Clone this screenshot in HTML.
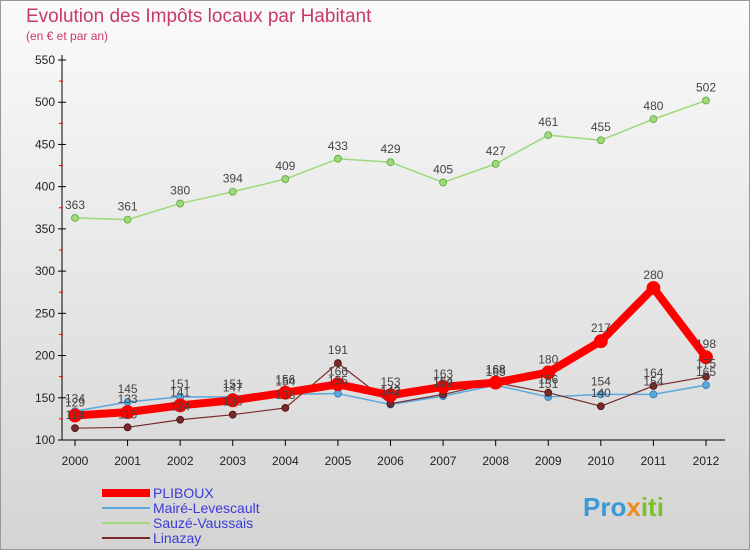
<!DOCTYPE html>
<html><head><meta charset="utf-8"><style>
body{margin:0;width:750px;height:550px;overflow:hidden;font-family:"Liberation Sans",sans-serif}
</style></head><body>
<svg width="750" height="550" xmlns="http://www.w3.org/2000/svg">
<defs><linearGradient id="bg" x1="0" y1="0" x2="0" y2="1"><stop offset="0" stop-color="#fafafa"/><stop offset="1" stop-color="#d4d4d4"/></linearGradient></defs>
<rect x="0.5" y="0.5" width="749" height="549" fill="url(#bg)" stroke="#999"/>
<text x="26" y="22" font-size="19" fill="#c8386e">Evolution des Impôts locaux par Habitant</text>
<text x="26" y="40" font-size="12" fill="#c8386e">(en € et par an)</text>
<g id="axes"></g><g id="series"></g><g id="labels"></g><g id="legend"></g>
<text x="583" y="516" font-size="26" font-weight="bold" fill="#3a9ad8">Pro<tspan fill="#f08a1c">x</tspan><tspan fill="#7cc02c">iti</tspan></text>
</svg>
<script>
const years=[2000,2001,2002,2003,2004,2005,2006,2007,2008,2009,2010,2011,2012];
const yTicks=[100,150,200,250,300,350,400,450,500,550];
const pliboux=[129,133,141,147,156,166,153,163,168,180,217,280,198];
const maire=[134,145,151,151,154,155,142,152,165,151,154,154,165];
const sauze=[363,361,380,394,409,433,429,405,427,461,455,480,502];
const linazay=[114,115,124,130,138,191,143,154,168,156,140,164,175];
const NS="http://www.w3.org/2000/svg";
const X=i=>75+i*(706-75)/(years.length-1);
const Y=v=>440-(v-100)*380/450;
function mk(t,a,p){const e=document.createElementNS(NS,t);for(const k in a)e.setAttribute(k,a[k]);(p||document.getElementById('axes')).appendChild(e);return e;}
const ax=document.getElementById('axes');
let e=mk('line',{x1:62,y1:55,x2:62,y2:440,stroke:'#000'});

e=mk('line',{x1:62,y1:440,x2:725,y2:440,stroke:'#000'});

yTicks.forEach(v=>{mk('line',{x1:58,y1:Y(v),x2:66,y2:Y(v),stroke:'#000'});
 if(v<550)mk('line',{x1:59,y1:Y(v+25),x2:63,y2:Y(v+25),stroke:'#e00'});
 const t=mk('text',{x:55,y:Y(v)+4,'font-size':12,'text-anchor':'end',fill:'#222'});t.textContent=v;
 });
years.forEach((y,i)=>{mk('line',{x1:X(i),y1:440,x2:X(i),y2:446,stroke:'#000'});
 const t=mk('text',{x:X(i),y:465,'font-size':12,'text-anchor':'middle',fill:'#222'});t.textContent=y;
 });
const sg=document.getElementById('series'),lg=document.getElementById('labels');
function series(d,col,w,r,name,stroke){
 const p=mk('polyline',{points:d.map((v,i)=>X(i)+','+Y(v)).join(' '),fill:'none',stroke:col,'stroke-width':w,'stroke-linejoin':'round'},sg);
 
 d.forEach((v,i)=>{const c=mk('circle',{cx:X(i),cy:Y(v),r:r,fill:col,stroke:stroke,'stroke-width':0.8},sg);
  
  const t=mk('text',{x:X(i),y:Y(v)-9,'font-size':12,'text-anchor':'middle',fill:'#444'},lg);t.textContent=v;
  });}
series(sauze,'#9ed97a',1.5,3.5,'sauze','#5aa83a');
series(maire,'#5aa8dc',1.5,3.5,'maire','#2a78b8');
series(linazay,'#7a2a2a',1.2,3.5,'linazay','#4a1010');
series(pliboux,'#ff0000',8,6.5,'pliboux','#e00');
const L=document.getElementById('legend');
[['PLIBOUX','#ff0000',8],['Mairé-Levescault','#5aa8dc',2],['Sauzé-Vaussais','#9ed97a',2],['Linazay','#7a2a2a',2]].forEach((s,i)=>{
 const y=493+i*15;
 const l=mk('line',{x1:102,y1:y,x2:150,y2:y,stroke:s[1],'stroke-width':s[2]},L);
 
 const t=mk('text',{x:153,y:y+5,'font-size':14,fill:'#3b3bd8'},L);t.textContent=s[0];
 });
</script>
</body></html>
